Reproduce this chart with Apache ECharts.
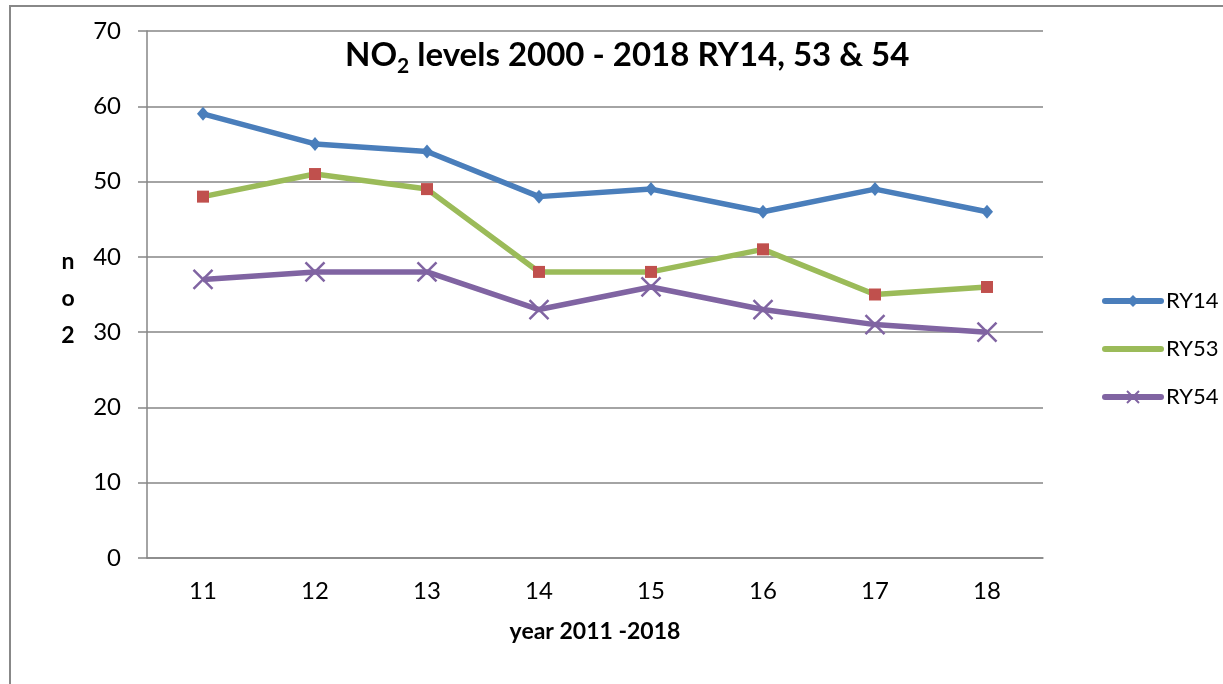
<!DOCTYPE html>
<html>
<head>
<meta charset="utf-8">
<script src="https://cdn.jsdelivr.net/npm/echarts@6/dist/echarts.min.js"></script>
<style>
  html, body { margin: 0; padding: 0; background: #fff; }
  #main_chart { width: 1223px; height: 684px; }
</style>
</head>
<body>
<div id="main_chart"></div>
<script>
// values
var years = ['11', '12', '13', '14', '15', '16', '17', '18'];
var ry14 = [59, 55, 54, 48, 49, 46, 49, 46];
var ry53 = [48, 51, 49, 38, 38, 41, 35, 36];
var ry54 = [37, 38, 38, 33, 36, 33, 31, 30];

var font = 'Lato, "Open Sans", sans-serif';
var gridColor = '#868686';

var chart = echarts.init(document.getElementById('main_chart'));

chart.setOption({
    animation: false,
    backgroundColor: '#fff',
    textStyle: { fontFamily: font },
    title: {
        text: '{a|NO}{b|2}{a| levels 2000 - 2018 RY14, 53 & 54}',
        left: 340,
        top: 28,
        textStyle: {
            rich: {
                a: { fontFamily: font, fontSize: 33, fontWeight: 'bold', color: '#000', lineHeight: 44, verticalAlign: 'middle' },
                b: { fontFamily: font, fontSize: 21, fontWeight: 'bold', color: '#000', lineHeight: 44, verticalAlign: 'bottom' }
            }
        }
    },
    legend: {
        orient: 'vertical',
        left: 1097,
        top: 282,
        itemWidth: 56,
        itemHeight: 15,
        itemGap: 20,
        textStyle: { fontFamily: font, fontSize: 22, color: '#000', lineHeight: 28 },
        lineStyle: { width: 6, cap: 'round' },
        data: ['RY14', { name: 'RY53', itemStyle: { opacity: 0 } }, 'RY54']
    },
    grid: { left: 147, right: 180, top: 31, bottom: 126 },
    xAxis: {
        type: 'category',
        data: years,
        name: 'year 2011 -2018',
        nameLocation: 'middle',
        nameGap: 62,
        nameTextStyle: { fontFamily: font, fontSize: 23, fontWeight: 'bold', color: '#000' },
        axisLine: { lineStyle: { color: gridColor, width: 1.5 } },
        axisTick: { length: 8, lineStyle: { color: gridColor, width: 1.5 } },
        axisLabel: { fontFamily: font, fontSize: 24, color: '#000', margin: 21 }
    },
    yAxis: {
        type: 'value',
        min: 0,
        max: 70,
        interval: 10,
        axisLine: { show: true, lineStyle: { color: gridColor, width: 1.5 } },
        axisTick: { show: true, length: 9, lineStyle: { color: gridColor, width: 1.5 } },
        axisLabel: { fontFamily: font, fontSize: 24, color: '#000', margin: 26 },
        splitLine: { lineStyle: { color: gridColor, width: 1.5 } }
    },
    series: [{
        name: 'RY14',
        type: 'line',
        data: ry14,
        symbol: 'diamond',
        symbolSize: [12, 14],
        lineStyle: { color: '#4A7EBB', width: 5.5 },
        itemStyle: { color: '#4A7EBB' }
    }, {
        name: 'RY53',
        type: 'line',
        data: ry53,
        symbol: 'rect',
        symbolSize: 12,
        lineStyle: { color: '#9BBB59', width: 5.5 },
        itemStyle: { color: '#C0504D' }
    }, {
        name: 'RY54',
        type: 'line',
        data: ry54,
        symbol: 'path://M0,0L10,10M10,0L0,10',
        symbolSize: 19,
        lineStyle: { color: '#8064A2', width: 5.5 },
        itemStyle: { color: 'transparent', borderColor: '#8064A2', borderWidth: 2.5 }
    }],
    graphic: [{
        type: 'rect',
        silent: true,
        shape: { x: 10, y: 6, width: 1400, height: 900 },
        style: { fill: null, stroke: '#888', lineWidth: 2 }
    }, {
        type: 'text',
        silent: true,
        style: {
            x: 68,
            y: 299,
            text: 'n\no\n2',
            fontFamily: font,
            fontSize: 23,
            fontWeight: 'bold',
            fill: '#000',
            lineHeight: 37,
            align: 'center',
            verticalAlign: 'middle'
        }
    }]
});
</script>
</body>
</html>
